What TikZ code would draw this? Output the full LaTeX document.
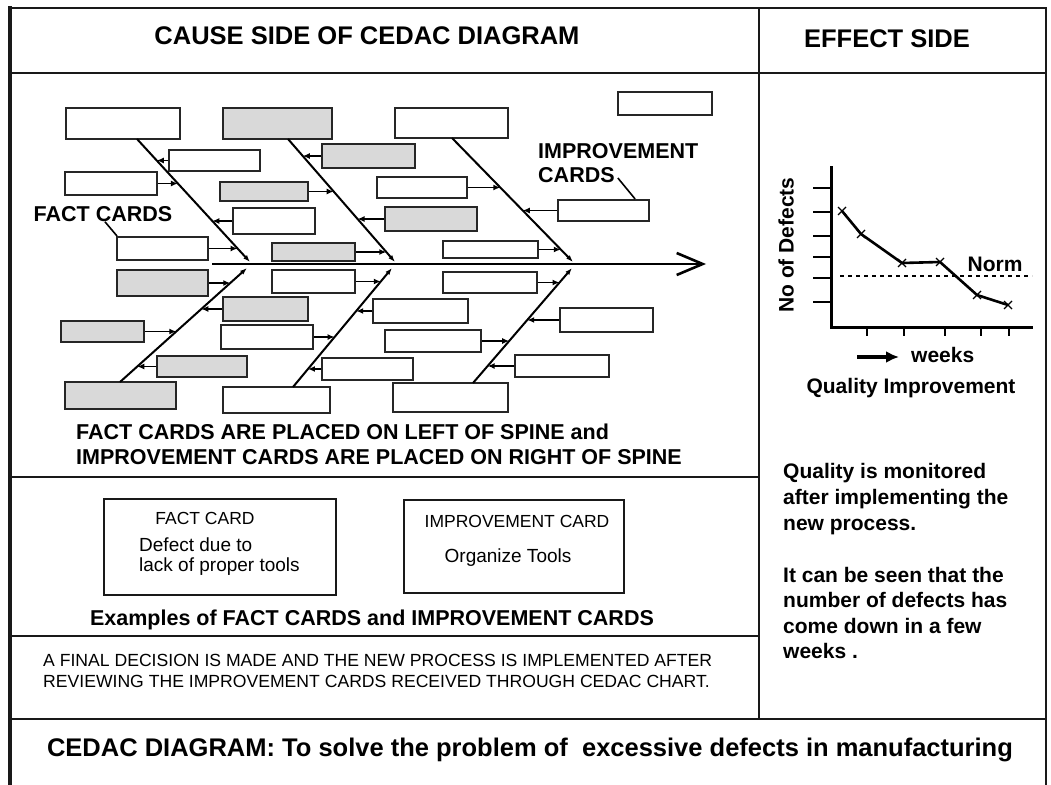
\documentclass[tikz,border=0pt]{standalone}
\usepackage{fontspec}
\setmainfont{Liberation Sans}
\usetikzlibrary{arrows.meta,calc}

% a card drawn from its corners: name, x1, y1, x2, y2, style
\newcommand\card[6]{%
  \pgfmathsetmacro\cardw{#4-#2}\pgfmathsetmacro\cardh{#5-#3}%
  \node[#6,minimum width=\cardw pt,minimum height=\cardh pt] (#1) at ({(#2+#4)/2},{(#3+#5)/2}) {};}
% horizontal arrow from a card side to the bone it belongs to
\newcommand\tobone[2]{%
  \draw[link] let \p1=(#2s),\p2=(#2e),\p3=(#1) in
    (\p3) -- ({\x1+(\x2-\x1)*((\y3-\y1)/(\y2-\y1))},\y3);}

\begin{document}
\begin{tikzpicture}[x=1pt,y=-1pt,
  frame/.style={line width=2.6pt,draw=black!90},
  wcard/.style={draw=black!85,line width=2pt,fill=white,inner sep=0pt},
  gcard/.style={wcard,fill=black!15},
  excard/.style={draw=black!90,line width=2.2pt,inner sep=0pt},
  bone/.style={line width=2pt,-{Latex[length=7pt,width=5pt]}},
  spine/.style={line width=2.6pt,-{Straight Barb[length=26pt,width=22pt]}},
  link/.style={line width=1.7pt,-{Latex[length=7pt,width=6pt]}},
  leader/.style={line width=1.6pt},
  hdr/.style={inner sep=0pt,font=\bfseries\fontsize{25.5}{30}\selectfont},
  lab/.style={inner sep=0pt,font=\bfseries\fontsize{21.5}{26}\selectfont},
  glab/.style={inner sep=0pt,font=\bfseries\fontsize{21}{26}\selectfont},
  rtxt/.style={inner sep=0pt,anchor=base west,font=\bfseries\fontsize{21}{26}\selectfont},
  cardhead/.style={inner sep=0pt,font=\fontsize{17.5}{21}\selectfont},
  cardtxt/.style={inner sep=0pt,font=\fontsize{19}{23}\selectfont},
  fine/.style={inner sep=0pt,font=\fontsize{17.6}{21}\selectfont},
  axis/.style={line width=3pt},
  tick/.style={line width=2.6pt},
  trend/.style={line width=2.6pt,line join=round},
  xmark/.style={line width=1.2pt},
  norm/.style={line width=1.6pt,dash pattern=on 4pt off 4pt}]

\useasboundingbox (0,0) rectangle (1051,784);
\fill[white] (0,0) rectangle (1051,784);

% ---------- frame of the sheet ----------
\draw[frame] (10,8) rectangle (1046,795);
\draw[frame,line width=3.6pt] (10,6.2) -- (10,795);
\draw[frame] (10,73) -- (1046,73);
\draw[frame] (759,8) -- (759,719);
\draw[frame] (10,477) -- (759,477);
\draw[frame] (10,636) -- (759,636);
\draw[frame] (10,719) -- (1046,719);

\node[hdr] (cause) at (367,36) {CAUSE SIDE OF CEDAC DIAGRAM};
\node[hdr] (effect) at (887,39) {EFFECT SIDE};

% ---------- cards of the fishbone ----------
% top row
\card{A1}{66}{108}{180}{139}{wcard}
\card{A2}{223}{108}{332}{139}{gcard}
\card{A3}{395}{108}{508}{138}{wcard}
\card{A4}{618}{92}{712}{115}{wcard}
% upper half
\card{B1}{169}{150}{260}{171}{wcard}
\card{B2}{65}{172}{157}{195}{wcard}
\card{B3}{220}{182}{308}{201}{gcard}
\card{B4}{233}{208}{315}{234}{wcard}
\card{B5}{117}{237}{208}{260}{wcard}
\card{B6}{272}{243}{355}{261}{gcard}
\card{B7}{322}{144}{415}{168}{gcard}
\card{B8}{377}{177}{467}{198}{wcard}
\card{B9}{385}{207}{477}{231}{gcard}
\card{B10}{443}{241}{538}{258}{wcard}
\card{B11}{558}{200}{649}{221}{wcard}
% lower half
\card{C1}{117}{270}{208}{296}{gcard}
\card{C2}{223}{297}{308}{321}{gcard}
\card{C3}{221}{325}{313}{349}{wcard}
\card{C4}{61}{321}{144}{342}{gcard}
\card{C5}{157}{356}{247}{377}{gcard}
\card{C6}{65}{382}{176}{409}{gcard}
\card{C7}{272}{270}{355}{293}{wcard}
\card{C8}{373}{299}{468}{323}{wcard}
\card{C9}{322}{358}{413}{380}{wcard}
\card{C10}{223}{387}{330}{413}{wcard}
\card{C11}{443}{272}{537}{293}{wcard}
\card{C12}{385}{330}{481}{352}{wcard}
\card{C13}{560}{308}{653}{332}{wcard}
\card{C14}{515}{355}{609}{377}{wcard}
\card{C15}{393}{383}{508}{412}{wcard}

% ---------- spine and bones ----------
\coordinate (spS) at (212,264);
\coordinate (spE) at (706,264);
\draw[spine] (spS) -- (spE);

\coordinate (U1s) at (137,139); \coordinate (U1e) at (250,262);
\coordinate (U2s) at (288,139); \coordinate (U2e) at (395,262);
\coordinate (U3s) at (452,138); \coordinate (U3e) at (573,262);
\coordinate (L1s) at (120,382); \coordinate (L1e) at (247,268);
\coordinate (L2s) at (293,387); \coordinate (L2e) at (392,268);
\coordinate (L3s) at (473,383); \coordinate (L3e) at (572,268);
\foreach \b in {U1,U2,U3,L1,L2,L3} \draw[bone] (\b s) -- (\b e);

% cards pinned to the bones
\tobone{B1.west}{U1}
\tobone{B2.east}{U1}
\tobone{B4.west}{U1}
\tobone{B5.east}{U1}
\tobone{B7.west}{U2}
\tobone{B3.east}{U2}
\tobone{B9.west}{U2}
\tobone{B6.east}{U2}
\tobone{B8.east}{U3}
\tobone{B11.west}{U3}
\tobone{B10.east}{U3}
\tobone{C1.east}{L1}
\tobone{C2.west}{L1}
\tobone{C4.east}{L1}
\tobone{C5.west}{L1}
\tobone{C7.east}{L2}
\tobone{C3.east}{L2}
\tobone{C8.west}{L2}
\tobone{C9.west}{L2}
\tobone{C11.east}{L3}
\tobone{C12.east}{L3}
\tobone{C13.west}{L3}
\tobone{C14.west}{L3}

% labels of the two kinds of cards
\node[lab] (fc) at (103,214) {FACT CARDS};
\draw[leader] ($(fc.south)+(2,0)$) -- ($(B5.north west)+(1,0)$);
\node[lab,anchor=west] (imp1) at (538,151) {IMPROVEMENT};
\node[lab,anchor=west] (imp2) at (538,175) {CARDS};
\draw[leader] ($(imp2.east)+(3,3)$) -- ($(B11.north west)!0.84!(B11.north east)$);

\node[lab,anchor=west] (n1) at (76,432) {FACT CARDS ARE PLACED ON LEFT OF SPINE and};
\node[lab,anchor=west] (n2) at (76,457) {IMPROVEMENT CARDS ARE PLACED ON RIGHT OF SPINE};

% ---------- example cards ----------
\card{fcx}{104}{499}{336}{595}{excard}
\card{icx}{404}{500}{624}{593}{excard}
\node[cardhead] (fch) at (205,518) {FACT CARD};
\node[cardtxt,anchor=west] (fct1) at (139,545) {Defect due to};
\node[cardtxt,anchor=west] (fct2) at (139,567) {lack of proper tools};
\node[cardhead] (ich) at (517,521) {IMPROVEMENT CARD};
\node[cardtxt] (ict) at (508,558) {Organize Tools};
\node[lab] (ex) at (372,620) {Examples of FACT CARDS and IMPROVEMENT CARDS};

\node[fine,anchor=west] (fd1) at (43,660) {A FINAL DECISION IS MADE AND THE NEW PROCESS IS IMPLEMENTED AFTER};
\node[fine,anchor=west] (fd2) at (43,681) {REVIEWING THE IMPROVEMENT CARDS RECEIVED THROUGH CEDAC CHART.};

\node[hdr] (bottom) at (530,750) {CEDAC DIAGRAM: To solve the problem of~ excessive defects in manufacturing};

% ---------- effect side: defects over the weeks ----------
\draw[axis] (831,166) -- (831,327.5) -- (1033,327.5);
\foreach \t in {188,212,236,257,278,302} \draw[tick] (813,\t) -- (831,\t);
\foreach \t in {867,904,945,981,1009} \draw[tick] (\t,327) -- (\t,336);
\draw[norm] (840,276) -- (1032,276);
\coordinate (g1) at (842,211);
\coordinate (g2) at (861,234);
\coordinate (g3) at (902,263);
\coordinate (g4) at (940,262);
\coordinate (g5) at (977,295);
\coordinate (g6) at (1008,305);
\draw[trend] (g1) -- (g2) -- (g3) -- (g4) -- (g5) -- (g6);
\foreach \g in {g1,g2,g3,g4,g5,g6}
  \draw[xmark] ($(\g)+(-4,-4)$) -- ($(\g)+(4,4)$) ($(\g)+(-4,4)$) -- ($(\g)+(4,-4)$);
\node[glab] (normlab) at (995,264) {Norm};
\node[glab,rotate=90] (ylab) at (786,245) {No of Defects};
\coordinate (wa) at (857,357);
\coordinate (wb) at (899,357);
\draw[line width=3.4pt,-{Latex[length=13pt,width=12pt]}] (wa) -- (wb);
\node[glab,anchor=west] (weeks) at (911,355) {weeks};
\node[glab] (qi) at (911,388) {Quality Improvement};

\node[rtxt] (r1) at (783,478) {Quality is monitored};
\node[rtxt] (r2) at (783,504) {after implementing the};
\node[rtxt] (r3) at (783,530) {new process.};
\node[rtxt] (r4) at (783,582) {It can be seen that the};
\node[rtxt] (r5) at (783,607) {number of defects has};
\node[rtxt] (r6) at (783,633) {come down in a few};
\node[rtxt] (r7) at (783,658) {weeks .};
\end{tikzpicture}
\end{document}
